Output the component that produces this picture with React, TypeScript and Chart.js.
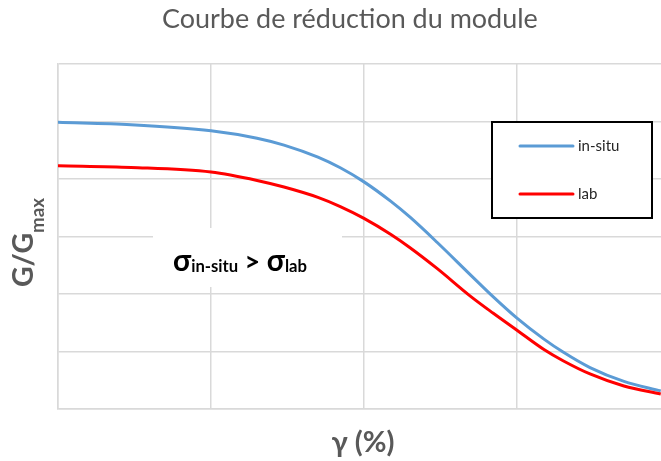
import React, { useEffect, useRef } from "react";
import { Chart, registerables } from "chart.js";

Chart.register(...registerables);

// ---- data ----
const titleText = "Courbe de réduction du module";
const gammaPct = [0.0001, 0.0003, 0.001, 0.002, 0.003, 0.005, 0.007, 0.01, 0.015, 0.02, 0.03, 0.05, 0.07, 0.1, 0.15, 0.2, 0.3, 0.5, 0.87];
const inSitu = [0.997, 0.989, 0.968, 0.942, 0.918, 0.876, 0.839, 0.79, 0.722, 0.667, 0.58, 0.465, 0.39, 0.316, 0.243, 0.198, 0.144, 0.096, 0.063];
const lab = [0.846, 0.84, 0.824, 0.795, 0.772, 0.736, 0.704, 0.663, 0.607, 0.561, 0.489, 0.391, 0.333, 0.274, 0.207, 0.168, 0.122, 0.08, 0.052];
const seriesLabels = ["in-situ", "lab"];
const seriesColors = ["#5B9BD5", "#FF0000"];

const FAMILY = "Lato, 'Open Sans', 'DejaVu Sans', sans-serif";

type Seg = { t: string; s: number; dy?: number };

function drawRich(
  ctx: CanvasRenderingContext2D,
  segs: Seg[],
  x: number,
  y: number,
  targetW: number,
  weight: string,
  color: string,
  align: "left" | "center"
) {
  const base = 100;
  let w = 0;
  for (const sg of segs) {
    ctx.font = `${weight} ${base * sg.s}px ${FAMILY}`;
    w += ctx.measureText(sg.t).width;
  }
  const k = targetW / w;
  const size = base * k;
  let cx = align === "center" ? x - targetW / 2 : x;
  ctx.fillStyle = color;
  ctx.textAlign = "left";
  ctx.textBaseline = "alphabetic";
  for (const sg of segs) {
    ctx.font = `${weight} ${size * sg.s}px ${FAMILY}`;
    ctx.fillText(sg.t, cx, y + (sg.dy || 0) * size);
    cx += ctx.measureText(sg.t).width;
  }
}

const decorPlugin = {
  id: "decor",
  afterDraw(chart: any) {
    const ctx: CanvasRenderingContext2D = chart.ctx;
    ctx.save();
    // title
    drawRich(ctx, [{ t: titleText, s: 1 }], 350, 28, 376, "normal", "#595959", "center");
    // x axis title
    drawRich(ctx, [{ t: "γ (%)", s: 1 }], 363, 452, 63, "bold", "#595959", "center");
    // y axis title (rotated)
    ctx.save();
    ctx.translate(33, 287);
    ctx.rotate(-Math.PI / 2);
    drawRich(ctx, [{ t: "G/G", s: 1 }, { t: "max", s: 0.66, dy: 0.4 }], 0, 0, 89, "bold", "#595959", "left");
    ctx.restore();

    // annotation box
    ctx.fillStyle = "#ffffff";
    ctx.fillRect(153, 228, 189, 59);
    drawRich(
      ctx,
      [
        { t: "σ", s: 1.1 },
        { t: "in-situ", s: 0.62, dy: 0.05 },
        { t: " > ", s: 1 },
        { t: "σ", s: 1.1 },
        { t: "lab", s: 0.62, dy: 0.05 },
      ],
      173,
      271,
      134,
      "bold",
      "#000000",
      "left"
    );

    // legend box
    ctx.fillStyle = "#ffffff";
    ctx.fillRect(492, 122, 160, 96);
    ctx.strokeStyle = "#000000";
    ctx.lineWidth = 2;
    ctx.strokeRect(492, 122, 160, 96);
    const ds = chart.data.datasets;
    const rows = [146, 194];
    ds.forEach((d: any, i: number) => {
      const yy = rows[i];
      ctx.strokeStyle = d.borderColor;
      ctx.lineWidth = 3;
      ctx.lineCap = "round";
      ctx.beginPath();
      ctx.moveTo(520, yy);
      ctx.lineTo(573, yy);
      ctx.stroke();
      ctx.font = `normal 15px ${FAMILY}`;
      ctx.fillStyle = "#262626";
      ctx.textBaseline = "middle";
      ctx.textAlign = "left";
      ctx.fillText(d.label, 578, yy);
    });
    ctx.restore();
  },
};

export default function App() {
  const ref = useRef<HTMLCanvasElement | null>(null);
  useEffect(() => {
    if (!ref.current) return;
    const toPts = (ys: number[]) => gammaPct.map((g, i) => ({ x: g, y: ys[i] }));
    const chart = new Chart(ref.current, {
      type: "line",
      data: {
        datasets: [
          {
            label: seriesLabels[0],
            data: toPts(inSitu),
            borderColor: seriesColors[0],
            backgroundColor: seriesColors[0],
            borderWidth: 3,
            pointRadius: 0,
            cubicInterpolationMode: "monotone",
            order: 1,
          },
          {
            label: seriesLabels[1],
            data: toPts(lab),
            borderColor: seriesColors[1],
            backgroundColor: seriesColors[1],
            borderWidth: 3,
            pointRadius: 0,
            cubicInterpolationMode: "monotone",
            order: 0,
          },
        ],
      },
      plugins: [decorPlugin],
      options: {
        animation: false,
        responsive: false,
        devicePixelRatio: 1,
        layout: { padding: { left: 58, top: 64, right: 2, bottom: 52 } },
        plugins: { legend: { display: false }, title: { display: false }, tooltip: { enabled: false } },
        scales: {
          x: {
            type: "logarithmic",
            min: 0.0001,
            max: 1,
            afterBuildTicks: (scale: any) => {
              scale.ticks = scale.ticks.filter((t: any) => {
                const l = Math.log10(t.value);
                return Math.abs(l - Math.round(l)) < 1e-6;
              });
            },
            ticks: { display: false },
            grid: { color: "#d9d9d9", lineWidth: 1.5, drawTicks: false },
            border: { display: true, color: "#d9d9d9", width: 1.5 },
          },
          y: {
            type: "linear",
            min: 0,
            max: 1.2,
            ticks: { display: false, stepSize: 0.2 },
            grid: { color: "#d9d9d9", lineWidth: 1.5, drawTicks: false },
            border: { display: true, color: "#d9d9d9", width: 1.5 },
          },
        },
      },
    } as any);
    return () => chart.destroy();
  }, []);
  return (
    <div
      style={{
        position: "fixed",
        left: 0,
        top: 0,
        width: 661,
        height: 461,
        overflow: "hidden",
        background: "#ffffff",
      }}
    >
      <canvas ref={ref} width={672} height={461} style={{ display: "block" }} />
    </div>
  );
}
